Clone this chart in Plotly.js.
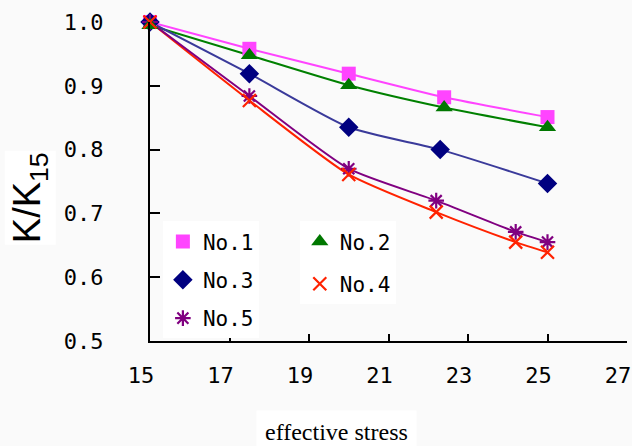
<!DOCTYPE html>
<html>
<head>
<meta charset="utf-8">
<script src="https://cdn.plot.ly/plotly-3.0.1.min.js"></script>
<style>html,body{margin:0;padding:0;background:#fafafa;}#chart{width:632px;height:446px;}</style>
</head>
<body>
<div id="chart"></div>
<script>
// ---- data ----
const seriesNames = ["No.1", "No.2", "No.3", "No.4", "No.5"];
const x1 = [15, 17.5, 20, 22.4, 25];
const y1 = [1.0, 0.958, 0.919, 0.882, 0.851];
const x2 = [15, 17.5, 20, 22.4, 25];
const y2 = [0.995, 0.948, 0.901, 0.866, 0.835];
const x3 = [15, 17.5, 20, 22.3, 25];
const y3 = [1.0, 0.919, 0.835, 0.800, 0.747];
const x4 = [15, 17.5, 20, 22.2, 24.2, 25];
const y4 = [1.0, 0.877, 0.761, 0.702, 0.655, 0.639];
const x5 = [15, 17.5, 20, 22.2, 24.2, 25];
const y5 = [1.0, 0.884, 0.770, 0.720, 0.671, 0.655];
const xTicks = [15, 17, 19, 21, 23, 25, 27];
const yTicks = [0.5, 0.6, 0.7, 0.8, 0.9, 1.0];
const xTitle = "effective stress";
const yTitle = "K/K<sub>15</sub>";

// ---- styles ----
const styles = [
  {line: "#ff44ff", mk: "#ff44ff", symbol: "square", size: 14, legend: "legend"},
  {line: "#008000", mk: "#007700", symbol: "triangle-up", size: 15, legend: "legend2"},
  {line: "#3a3a9a", mk: "#000080", symbol: "diamond", size: 15, legend: "legend"},
  {line: "#ff2200", mk: "#ff2200", symbol: "x-thin-open", size: 13, legend: "legend2"},
  {line: "#800080", mk: "#800080", symbol: "asterisk-open", size: 13, legend: "legend"}
];
const xs = [x1, x2, x3, x4, x5];
const ys = [y1, y2, y3, y4, y5];

const traces = [];
for (let i = 0; i < 5; i++) {
  traces.push({
    x: xs[i], y: ys[i], mode: "lines", type: "scatter",
    line: {color: styles[i].line, width: 2, shape: "spline", smoothing: 0.6},
    showlegend: false, hoverinfo: "skip", cliponaxis: false
  });
}
const legendOrder = [0, 2, 4, 1, 3];
for (const i of legendOrder) {
  const s = styles[i];
  const open = s.symbol.indexOf("open") >= 0;
  traces.push({
    x: xs[i], y: ys[i], mode: "markers", type: "scatter", name: seriesNames[i],
    legend: s.legend, legendgroup: "g" + i,
    marker: {symbol: s.symbol, size: s.size, color: s.mk,
             line: {color: s.mk, width: open ? 2.2 : 0}},
    cliponaxis: false
  });
}

const tickFont = {family: "DejaVu Sans Mono", size: 22, color: "#000"};
const legFont = {family: "DejaVu Sans Mono", size: 21, color: "#000"};

const layout = {
  width: 632, height: 446,
  margin: {l: 150, r: 5, t: 22, b: 105},
  paper_bgcolor: "#fafafa", plot_bgcolor: "#fafafa",
  showlegend: true,
  xaxis: {
    range: [15, 27], tickvals: xTicks, ticktext: xTicks.map(String),
    ticks: "inside", ticklen: 7, tickwidth: 2, tickcolor: "#000",
    showline: true, linecolor: "#000", linewidth: 2,
    showgrid: false, zeroline: false, tickfont: tickFont,
    ticklabelstandoff: 14, ticklabelshift: -9
  },
  yaxis: {
    range: [0.5, 1.0], tickvals: yTicks, ticktext: yTicks.map(v => v.toFixed(1)),
    ticks: "inside", ticklen: 10, tickwidth: 2, tickcolor: "#000",
    showline: true, linecolor: "#000", linewidth: 2,
    showgrid: false, zeroline: false, tickfont: tickFont,
    ticklabelstandoff: 40
  },
  legend: {
    x: 0.027, y: 0.375, xanchor: "left", yanchor: "top",
    orientation: "v", bgcolor: "#ffffff", borderwidth: 0,
    font: legFont, tracegroupgap: 8, itemclick: false
  },
  legend2: {
    x: 0.314, y: 0.375, xanchor: "left", yanchor: "top",
    orientation: "v", bgcolor: "#ffffff", borderwidth: 0,
    font: legFont, tracegroupgap: 12, itemclick: false
  },
  annotations: [
    {text: yTitle, xref: "paper", yref: "paper", x: -0.25, y: 0.45,
     xanchor: "center", yanchor: "middle", textangle: -90, showarrow: false,
     bgcolor: "#ffffff",
     font: {family: "Liberation Sans", size: 38, color: "#000"}},
    {text: xTitle, xref: "paper", yref: "paper", x: 0.39, y: -0.285,
     xanchor: "center", yanchor: "middle", showarrow: false,
     bgcolor: "#ffffff", borderpad: 8,
     font: {family: "Liberation Serif", size: 24, color: "#000"}}
  ]
};

Plotly.newPlot("chart", traces, layout, {displayModeBar: false, staticPlot: true});
</script>
</body>
</html>
